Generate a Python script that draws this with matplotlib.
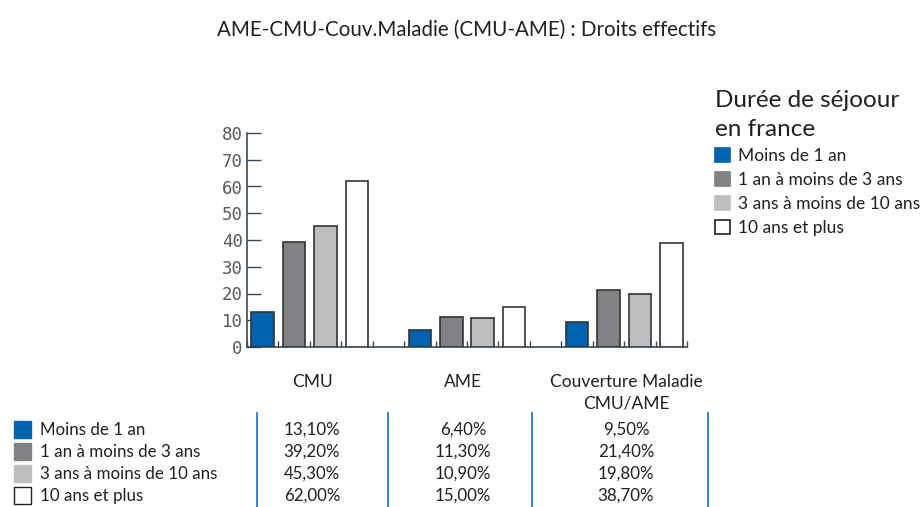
import matplotlib.pyplot as plt
from matplotlib.patches import Rectangle
import numpy as np

# data
groups = ["CMU", "AME", "Couverture Maladie\nCMU/AME"]
series = ["Moins de 1 an", "1 an à moins de 3 ans", "3 ans à moins de 10 ans", "10 ans et plus"]
moins_1 = [13.1, 6.4, 9.5]
de_1_a_3 = [39.2, 11.3, 21.4]
de_3_a_10 = [45.3, 10.9, 19.8]
plus_10 = [62.0, 15.0, 38.7]
yticks = [0, 10, 20, 30, 40, 50, 60, 70, 80]

values = [moins_1, de_1_a_3, de_3_a_10, plus_10]
colors = ["#0062b0", "#808285", "#bcbec0", "#ffffff"]

FONT = ["Lato", "DejaVu Sans"]
plt.rcParams["font.family"] = FONT
TXT = "#231f20"
SPINE = "#34495e"

W, H = 923, 507
fig = plt.figure(figsize=(W / 100, H / 100), dpi=100)
ax = fig.add_axes([247 / W, 160 / H, 440 / W, 214 / H])

n_series = len(series)
slot = n_series + 1  # one empty slot between groups
bars = []
for i, (name, vals) in enumerate(zip(series, values)):
    x = np.arange(len(groups)) * slot + i + 0.5
    b = ax.bar(x, vals, width=0.72, color=colors[i], edgecolor="#333333",
               linewidth=1.2, label=name, zorder=3)
    bars.append(b)

ax.set_xlim(0, slot * len(groups) - 1)
ax.set_ylim(0, 80)
ax.set_yticks(yticks)
ax.set_yticklabels([str(v) for v in yticks], family="DejaVu Sans Mono",
                   fontsize=12.5, color="#5a5a5a")
ax.set_xticks(np.arange(0, slot * len(groups)))
ax.set_xticklabels([])
ax.tick_params(axis="x", direction="in", length=4, width=1, color=SPINE)
ax.tick_params(axis="y", direction="in", length=10, width=1, color=SPINE, pad=3)
for s in ["top", "right"]:
    ax.spines[s].set_visible(False)
for s in ["left", "bottom"]:
    ax.spines[s].set_color(SPINE)
    ax.spines[s].set_linewidth(1.2)

fig.text(467 / W, 1 - 30 / H, "AME-CMU-Couv.Maladie (CMU-AME) : Droits effectifs",
         ha="center", va="center", fontsize=14.8, color=TXT)

# category labels under the axis
col_x = [312, 463, 626]
for gx, g in zip(col_x, groups):
    fig.text(gx / W, 1 - 374 / H, g, ha="center", va="top", fontsize=12.5,
             color=TXT, linespacing=1.45)

leg = ax.legend(handles=bars, title="Durée de séjoour\nen france",
                loc="upper left", bbox_to_anchor=(715 / W, 1 - 90 / H),
                bbox_transform=fig.transFigure, frameon=False, fontsize=12.5,
                title_fontsize=17.5, alignment="left", handlelength=0.85,
                handleheight=0.85, handletextpad=0.45, labelspacing=0.45,
                borderaxespad=0, borderpad=0)
leg.get_title().set_color(TXT)
leg.get_title().set_linespacing(1.5)
for t in leg.get_texts():
    t.set_color(TXT)
for i, h in enumerate(leg.legend_handles):
    h.set_edgecolor("#231f20" if i == 3 else colors[i])

# data table
row_y = [430, 452, 474, 496]
for r, (name, vals) in enumerate(zip(series, values)):
    y = row_y[r]
    fig.add_artist(Rectangle((14 / W, 1 - (y + 8) / H), 17 / W, 17 / H,
                             transform=fig.transFigure, facecolor=colors[r],
                             edgecolor="#231f20" if r == 3 else colors[r], linewidth=1))
    fig.text(40 / W, 1 - y / H, name, ha="left", va="center", fontsize=12.2, color=TXT)
    for gx, v in zip(col_x, vals):
        fig.text(gx / W, 1 - y / H, f"{v:.2f}%".replace(".", ","), ha="center",
                 va="center", fontsize=12.2, color=TXT)

for lx in [257, 388, 532, 708]:
    fig.add_artist(plt.Line2D([lx / W, lx / W], [1 - 413 / H, 0], transform=fig.transFigure,
                              color="#1f6cc0", linewidth=1.2))

fig.savefig("out.png", dpi=100)
